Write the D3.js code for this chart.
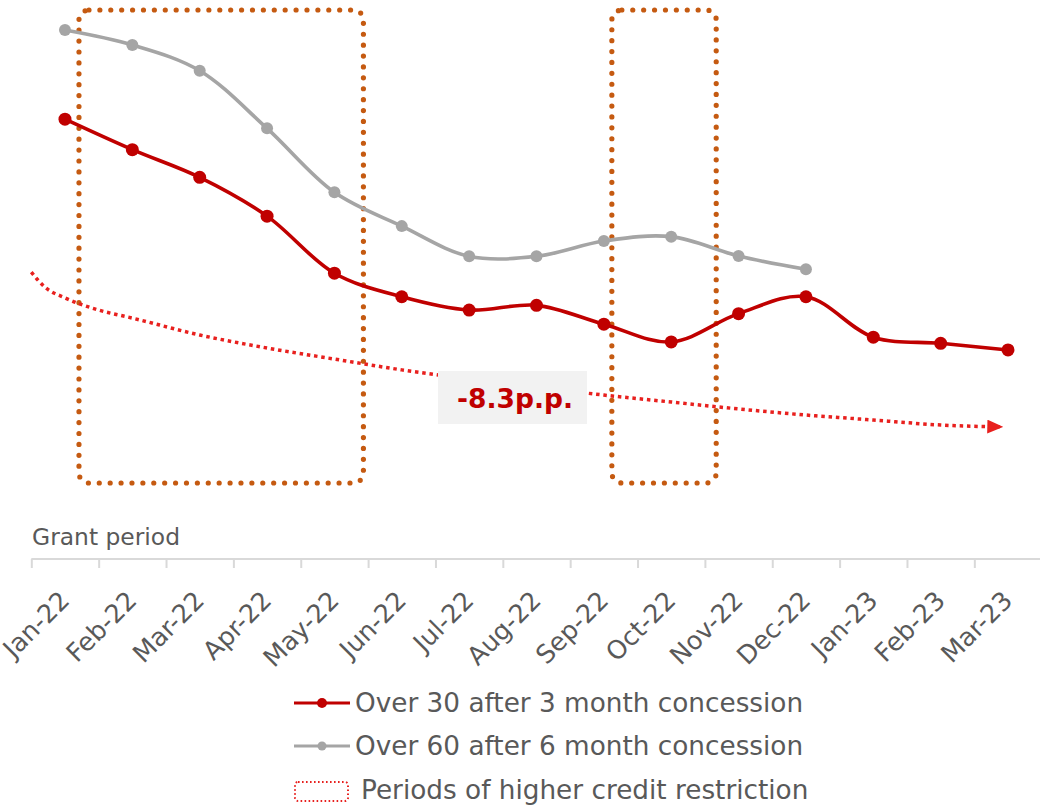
<!DOCTYPE html>
<meta charset="utf-8">
<script src="https://d3js.org/d3.v7.min.js"></script>
<style>
  body { margin: 0; background: #fff; }
  text { font-family: "DejaVu Sans", sans-serif; fill: #595959; }
</style>
<body>
<svg id="chart" width="1040" height="807"></svg>
<script>
// months on the x axis
var months = ["Jan-22","Feb-22","Mar-22","Apr-22","May-22","Jun-22","Jul-22","Aug-22",
              "Sep-22","Oct-22","Nov-22","Dec-22","Jan-23","Feb-23","Mar-23"];

// share of loans in arrears (%)
var over30 = [14.0, 12.9, 11.9, 10.5, 8.44, 7.59, 7.11, 7.28, 6.6, 5.96, 6.98, 7.59, 6.13, 5.91, 5.67];
var over60 = [17.22, 16.68, 15.75, 13.67, 11.36, 10.14, 9.05, 9.05, 9.6, 9.76, 9.06, 8.58];

// dotted trend arrow (position in months, value)
var trendPos = [-0.5, -0.3, 0, 0.5, 1, 2, 3, 4, 5, 6, 7, 8, 9, 10, 11, 12, 13, 13.93];
var trendVal = [8.48, 7.94, 7.55, 7.11, 6.82, 6.21, 5.74, 5.34, 4.95, 4.62, 4.33, 4.04, 3.79, 3.54, 3.32, 3.14, 2.96, 2.89];

// periods of higher credit restriction
var periodStart = ["Jan-22", "Sep-22"];
var periodEnd   = ["May-22", "Oct-22"];

var seriesNames = ["Over 30 after 3 month concession", "Over 60 after 6 month concession"];
var periodName = "Periods of higher credit restriction";
var dropLabel = "-8.3p.p.";
var axisTitle = "Grant period";

var red = "#c00000", grey = "#a5a5a5", boxCol = "#c55a11", trendCol = "#e8201e";

var svg = d3.select("#chart");

var xBand = d3.scaleBand().domain(months).range([31.3, 1041.7]);
var x = d3.scaleLinear().domain([-0.5, 14.5]).range([31.3, 1041.7]);
var y = d3.scaleLinear().domain([0, 18]).range([507, 8.4]);
var axisY = 559;

// restriction boxes
var plotTop = 10, plotBottom = 483;
periodStart.forEach(function(s, i) {
  var a = months.indexOf(s), b = months.indexOf(periodEnd[i]);
  var x0 = x(a) + (i == 0 ? 14 : 8);
  var x1 = x(b) + (i == 0 ? 29 : 45);
  svg.append("rect")
    .attr("x", x0).attr("y", plotTop)
    .attr("width", x1 - x0).attr("height", plotBottom - plotTop)
    .attr("rx", 10).attr("ry", 10)
    .attr("fill", "none")
    .attr("stroke", boxCol)
    .attr("stroke-width", 5.2)
    .attr("stroke-linecap", "round")
    .attr("stroke-dasharray", "0 10.9");
});

// trend arrow
svg.append("defs").append("marker")
  .attr("id", "arrow")
  .attr("viewBox", "0 0 16 14")
  .attr("refX", 16).attr("refY", 7)
  .attr("markerWidth", 16).attr("markerHeight", 14)
  .attr("markerUnits", "userSpaceOnUse")
  .attr("orient", "auto")
  .append("path").attr("d", "M0,0L16,7L0,14Z").attr("fill", trendCol);

var trendLine = d3.line()
  .x(function(d, i) { return x(trendPos[i]); })
  .y(function(d) { return y(d); })
  .curve(d3.curveMonotoneX);

svg.append("path")
  .datum(trendVal)
  .attr("d", trendLine)
  .attr("fill", "none")
  .attr("stroke", trendCol)
  .attr("stroke-width", 3.5)
  .attr("stroke-dasharray", "3.5 3.8")
  .attr("marker-end", "url(#arrow)");

// label box
var lab = svg.append("g").attr("transform", "translate(512,398)");
lab.append("rect").attr("x", -74).attr("y", -27).attr("width", 149).attr("height", 53).attr("fill", "#f2f2f2");
lab.append("text")
  .attr("text-anchor", "middle").attr("x", 3).attr("y", 10)
  .style("font-weight", "bold").style("font-size", "26.5px").style("fill", red)
  .text(dropLabel);

// series
var line = d3.line()
  .x(function(d, i) { return x(i); })
  .y(function(d) { return y(d); })
  .curve(d3.curveCatmullRom);

[[over60, grey, 6], [over30, red, 6.5]].forEach(function(s) {
  svg.append("path")
    .datum(s[0])
    .attr("d", line)
    .attr("fill", "none")
    .attr("stroke", s[1])
    .attr("stroke-width", 3.6);
  svg.selectAll(null)
    .data(s[0])
    .enter().append("circle")
    .attr("cx", function(d, i) { return x(i); })
    .attr("cy", function(d) { return y(d); })
    .attr("r", s[2])
    .attr("fill", s[1]);
});

// x axis: ticks between months
var ax = svg.append("g")
  .attr("transform", "translate(0," + axisY + ")")
  .call(d3.axisBottom(x).tickValues(d3.range(-0.5, 14, 1)).tickSize(9).tickFormat("").tickSizeOuter(0));
ax.select(".domain").attr("stroke", "#d9d9d9").attr("stroke-width", 2).attr("d", "M31.3,0H1040");
ax.selectAll(".tick line").attr("stroke", "#d9d9d9").attr("stroke-width", 2);

svg.selectAll(".mlab")
  .data(months)
  .enter().append("text")
  .attr("class", "mlab")
  .attr("text-anchor", "end")
  .attr("transform", function(d) {
    return "translate(" + (xBand(d) + xBand.bandwidth() / 2 + 6) + ",602) rotate(-45)";
  })
  .style("font-size", "25.5px")
  .text(function(d) { return d; });

svg.append("text")
  .attr("x", 32).attr("y", 545)
  .style("font-size", "23.4px")
  .text(axisTitle);

// legend
var leg = svg.append("g");
[[red, 703, 5], [grey, 746, 4.5]].forEach(function(r, i) {
  leg.append("line").attr("x1", 294).attr("x2", 350).attr("y1", r[1]).attr("y2", r[1])
    .attr("stroke", r[0]).attr("stroke-width", 3);
  leg.append("circle").attr("cx", 322).attr("cy", r[1]).attr("r", r[2]).attr("fill", r[0]);
  leg.append("text").attr("x", 355).attr("y", r[1]).attr("dy", "0.36em")
    .style("font-size", "26.3px").text(seriesNames[i]);
});
leg.append("rect").attr("x", 295).attr("y", 782).attr("width", 53).attr("height", 19).attr("rx", 3)
  .attr("fill", "none").attr("stroke", trendCol).attr("stroke-width", 2).attr("stroke-dasharray", "1.6 2.4");
leg.append("text").attr("x", 361).attr("y", 790).attr("dy", "0.36em")
  .style("font-size", "26.3px").text(periodName);
</script>
</body>
